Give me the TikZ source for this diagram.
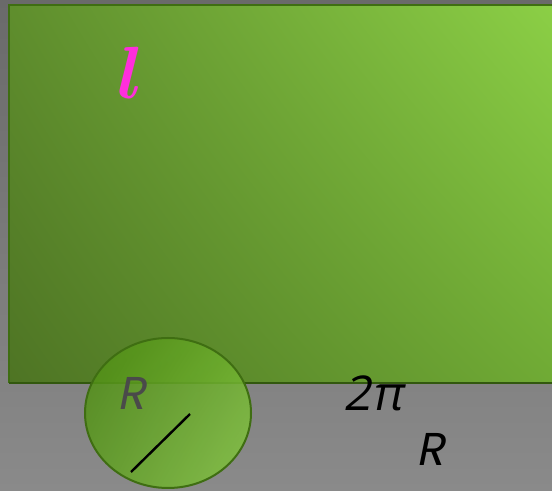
\documentclass[tikz,border=0pt]{standalone}
\usepackage{amsmath}
\usepackage{fontspec}
\setmainfont{Latin Modern Roman}
\newfontfamily\gothic[FakeSlant=0.2]{Poppins}
\newfontfamily\greek[FakeSlant=0.2]{Open Sans}
\usetikzlibrary{shadings}

\definecolor{bgtop}{HTML}{6A6A6A}
\definecolor{bgbot}{HTML}{8A8A8A}
\definecolor{grA}{HTML}{4E7424}
\definecolor{grB}{HTML}{5F8E2D}
\definecolor{grC}{HTML}{8CD046}
\definecolor{grD}{HTML}{70AB35}
\definecolor{grEdge}{HTML}{3F6E12}
\definecolor{cirA}{HTML}{4C8A12}
\definecolor{cirB}{HTML}{86C942}
\definecolor{pinkl}{HTML}{FF2EDC}
\definecolor{labgray}{HTML}{4A4A4A}

\begin{document}
\begin{tikzpicture}[x=0.5pt, y=-0.5pt,
    lab/.style={inner sep=0pt, font=\gothic\fontsize{23}{23}\selectfont}]
        % ==== BACKGROUND ====
        \shade[top color=bgtop, bottom color=bgbot] (0,0) rectangle (552,491);
        \useasboundingbox (0,0) rectangle (552,491);
        % ==== RECTANGLE ====
        \shade[lower left=grA, upper left=grB, upper right=grC, lower right=grD]
            (9,5) rectangle (560,383);
        \draw[grEdge, line width=1pt] (9,383) -- (9,5) -- (560,5);
        \draw[grEdge!80!black, line width=1.2pt] (9,383) -- (560,383);
        % ==== CIRCLE ====
        \shade[fill opacity=0.85, upper left=cirA, lower left=cirA!70!cirB,
            upper right=cirA!40!cirB, lower right=cirB]
            (168,413) ellipse [x radius=83, y radius=75];
        \draw[grEdge, line width=1pt] (168,413) ellipse [x radius=83, y radius=75];
        \coordinate (p) at (131,472);
        \coordinate (q) at (190,414);
        \draw[black, line width=1.2pt] (p) -- (q);
        % ==== LABELS ====
        \node[lab, text=labgray] (r1) at (131,393) {R};
        \node[lab, font=\greek\fontsize{24}{24}\selectfont] (tp) at (373,393) {2π};
        \node[lab] (r2) at (430,449) {R};
        \node[inner sep=0pt, text=pinkl, scale=3.7] (ell) at (131,73)
            {$\boldsymbol{l}$};
     \end{tikzpicture}
\end{document}
